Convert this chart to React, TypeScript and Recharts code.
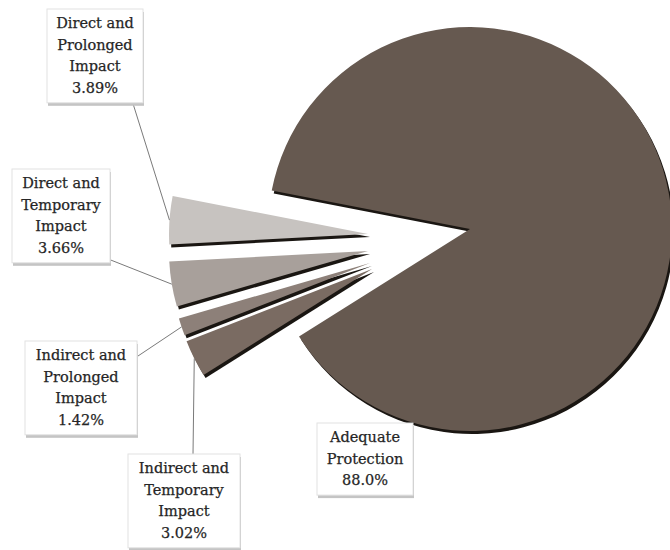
import { PieChart, Pie, Cell } from "recharts";

const categories = [
  "Direct and Prolonged Impact",
  "Direct and Temporary Impact",
  "Indirect and Prolonged Impact",
  "Indirect and Temporary Impact",
  "Adequate Protection",
];
const shares = [3.89, 3.66, 1.42, 3.02, 88.0];
const colors = ["#c7c3c0", "#a8a09b", "#8d8079", "#7a6b62", "#665950"];

const data = categories.map((name, i) => ({ name, value: shares[i] }));

// pie geometry
const CENTER = { x: 465, y: 224 };
const START = 169;
// each slice is pulled out of the pie by its own offset
const explode = [
  [-102, 5],
  [-102, 22],
  [-100, 34],
  [-98, 40],
  [0, 0],
];
const radius = [199, 199, 199, 199, 202];
const SHADOW = { dx: 2, dy: 3 };

// label boxes: text centre, first baseline, box width, leader start
const labelLayout = [
  { x: 95, y: 28, w: 96, lead: [130, 94] },
  { x: 61, y: 188, w: 98, lead: [93, 253] },
  { x: 81, y: 360, w: 112, lead: [135, 358] },
  { x: 184, y: 473, w: 112, lead: [193, 454] },
  { x: 365, y: 442, w: 96, lead: null },
];

const LINE_H = 21.7;
const RAD = Math.PI / 180;

function splitName(name: string) {
  const words = name.split(" ");
  if (words[1] === "and") return [words[0] + " and", ...words.slice(2)];
  return words;
}

const makeLabel = (slice: number) => (props: any) => {
  if (props.index !== slice) return <g />;
  const { cx, cy, midAngle, outerRadius, name, value } = props;
  const box = labelLayout[slice];
  const lines = [...splitName(name), value.toPrecision(3) + "%"];
  const h = lines.length * LINE_H + 7;
  const left = box.x - box.w / 2;
  const top = box.y - 19;
  const ax = cx + outerRadius * Math.cos(-midAngle * RAD);
  const ay = cy + outerRadius * Math.sin(-midAngle * RAD);
  return (
    <g>
      {box.lead && (
        <line x1={box.lead[0]} y1={box.lead[1]} x2={ax} y2={ay} stroke="#7a7a7a" strokeWidth={1} />
      )}
      <rect x={left + 1} y={top + 3} width={box.w} height={h} fill="#c4c4c4" />
      <rect x={left} y={top} width={box.w} height={h} fill="#ffffff" stroke="#e2e2e2" />
      {lines.map((t, i) => (
        <text
          key={i}
          x={box.x}
          y={box.y + i * LINE_H}
          textAnchor="middle"
          fill="#262626"
          stroke="#262626"
          strokeWidth={0.25}
          fontSize={14.5}
          fontFamily="'DejaVu Serif', serif"
        >
          {t}
        </text>
      ))}
    </g>
  );
};

export default function App() {
  return (
    <div style={{ position: "absolute", left: 0, top: 0, background: "#fff" }}>
      <PieChart width={670} height={550}>
        {data.map((_, s) => (
          <Pie
            key={"shadow" + s}
            data={data}
            dataKey="value"
            nameKey="name"
            cx={CENTER.x + explode[s][0] + SHADOW.dx}
            cy={CENTER.y + explode[s][1] + SHADOW.dy}
            outerRadius={radius[s]}
            startAngle={START}
            endAngle={START + 360}
            isAnimationActive={false}
            labelLine={false}
          >
            {data.map((d, i) => (
              <Cell key={d.name} fill={i === s ? "#1a1612" : "none"} stroke="none" />
            ))}
          </Pie>
        ))}
        {data.map((_, s) => (
          <Pie
            key={"slice" + s}
            data={data}
            dataKey="value"
            nameKey="name"
            cx={CENTER.x + explode[s][0]}
            cy={CENTER.y + explode[s][1]}
            outerRadius={radius[s]}
            startAngle={START}
            endAngle={START + 360}
            isAnimationActive={false}
            labelLine={false}
            label={makeLabel(s)}
          >
            {data.map((d, i) => (
              <Cell key={d.name} fill={i === s ? colors[s] : "none"} stroke="none" />
            ))}
          </Pie>
        ))}
      </PieChart>
    </div>
  );
}
